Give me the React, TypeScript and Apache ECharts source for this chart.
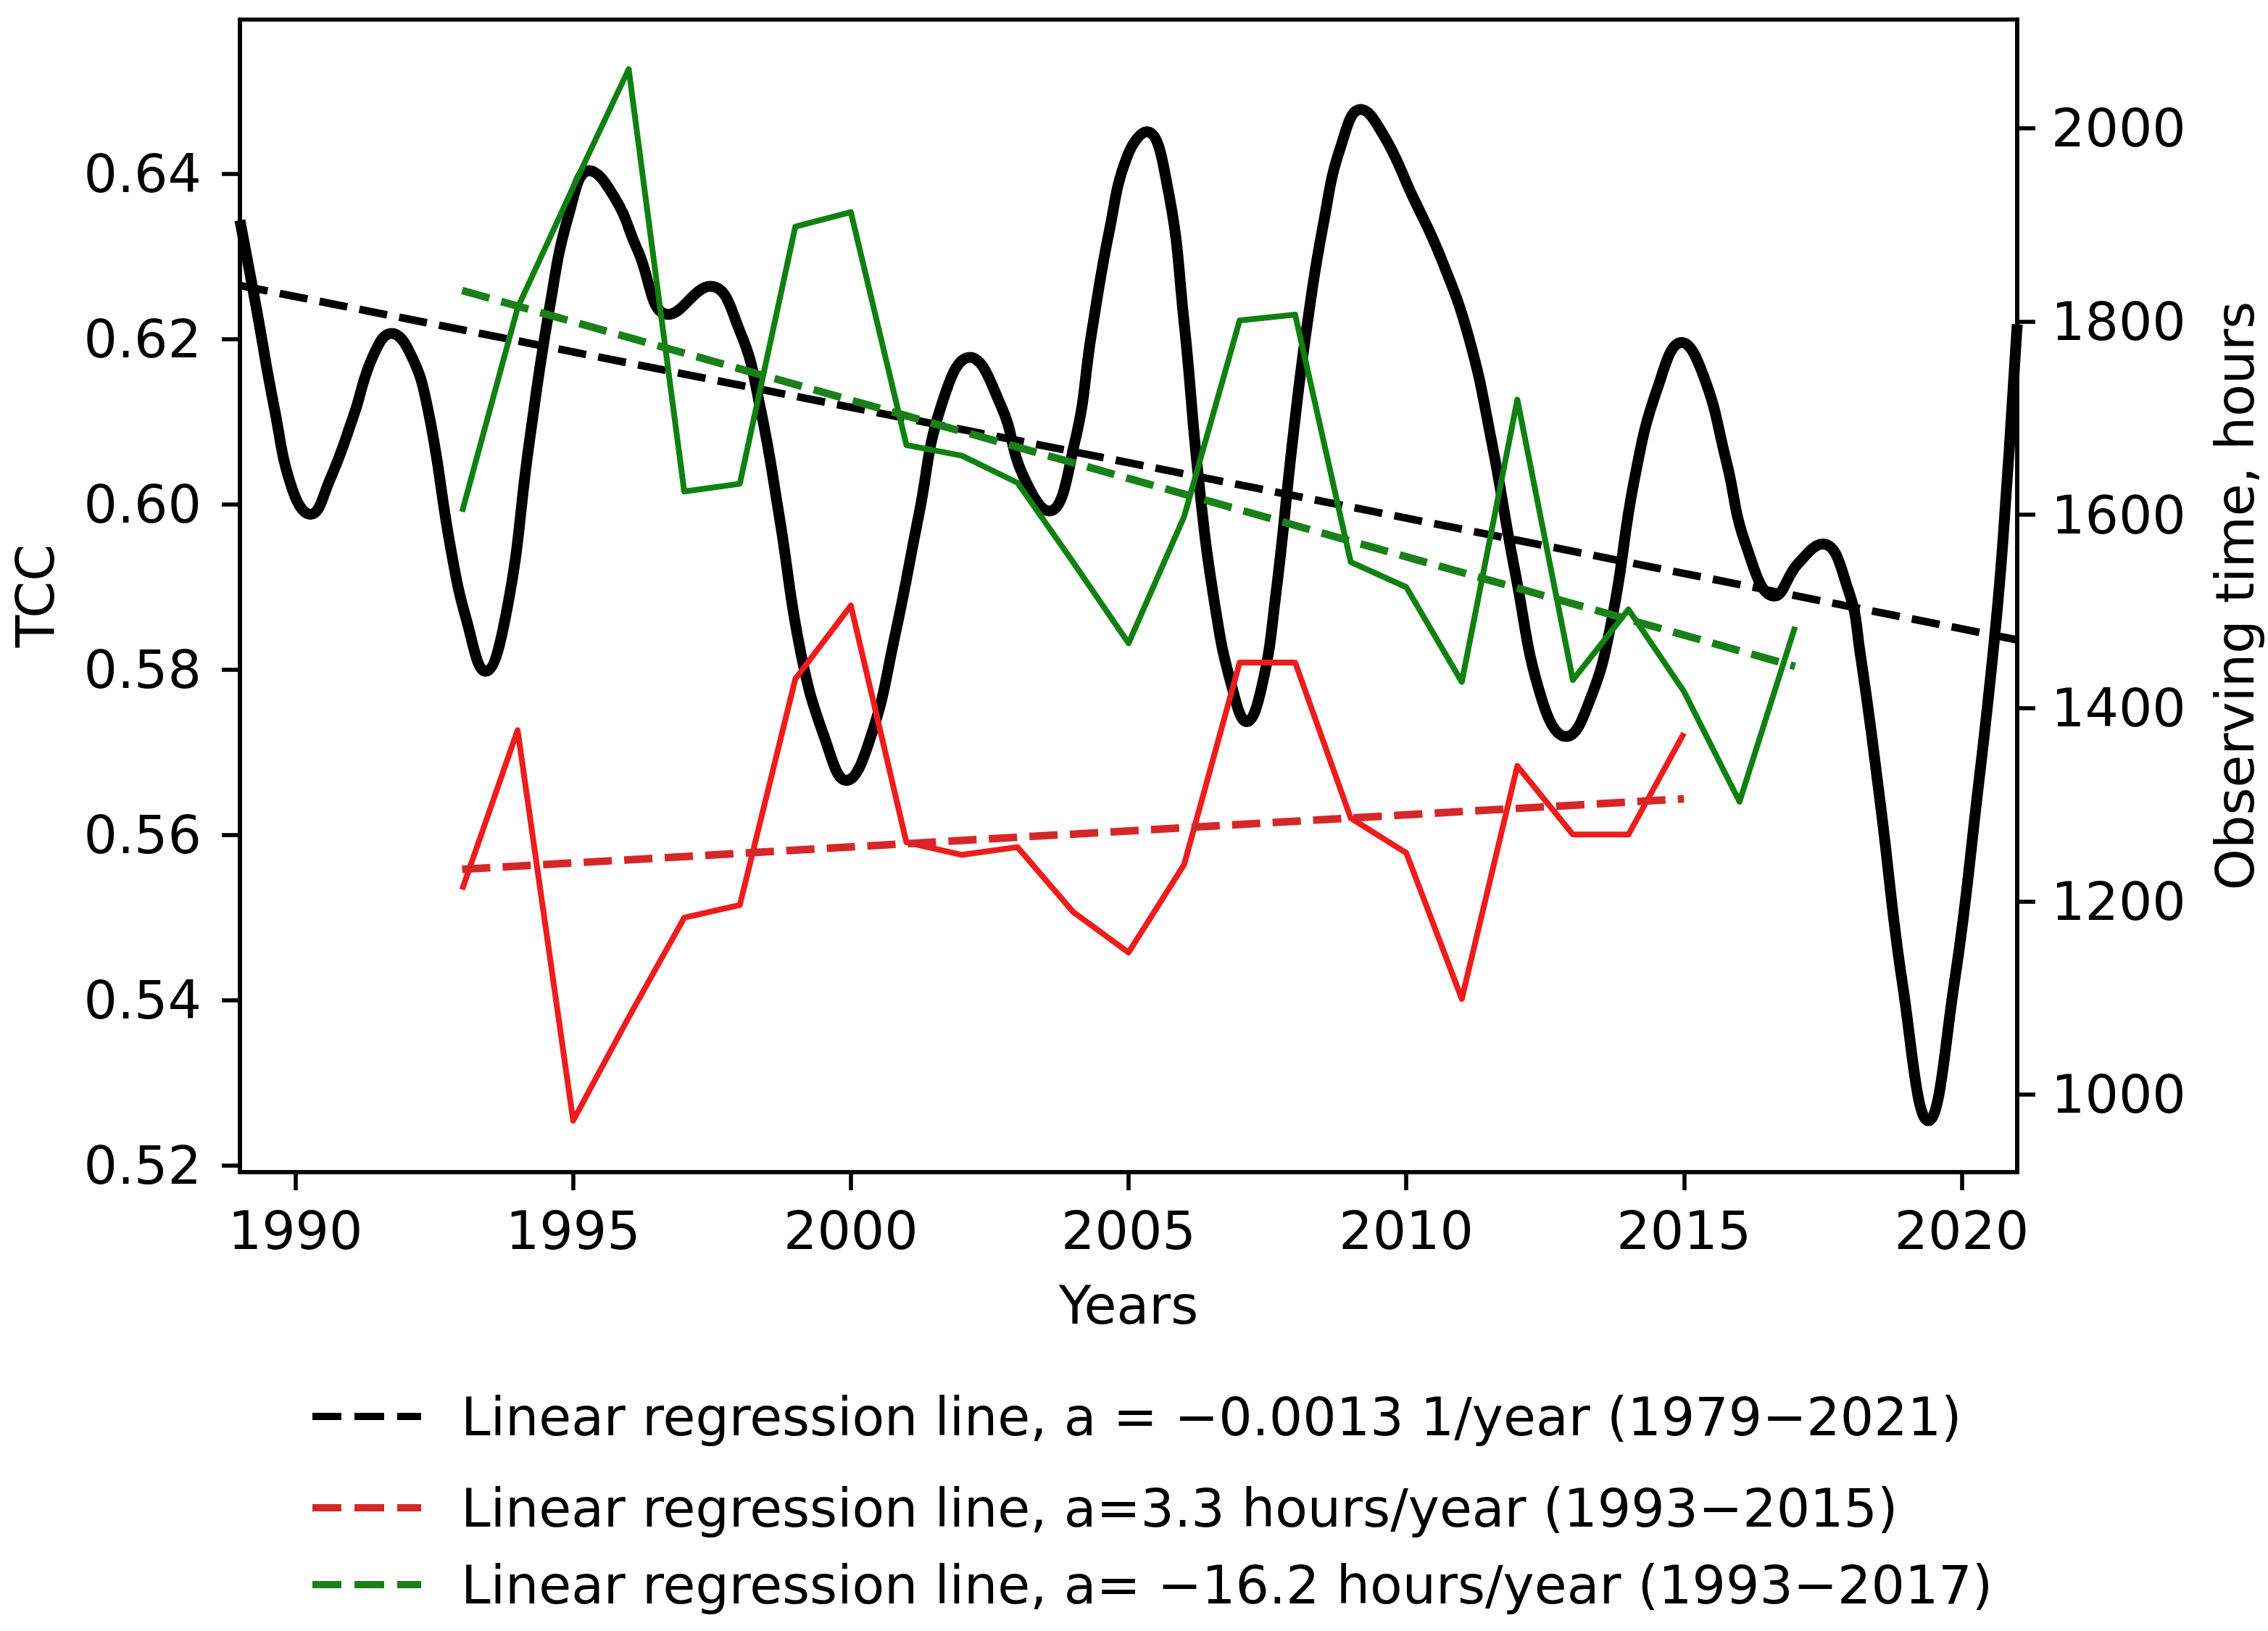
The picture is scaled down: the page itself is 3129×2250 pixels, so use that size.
import React, { useEffect, useRef } from "react";
import * as echarts from "echarts";

// ---------- data ----------
const TCC_YEARS = [
  1989.0, 1989.3, 1989.61, 1989.95, 1990.27, 1990.62, 1991.04, 1991.4, 1991.73, 1992.05,
  1992.37, 1992.8, 1993.08, 1993.42, 1993.8, 1994.21, 1994.57, 1994.93, 1995.29, 1995.75,
  1996.16, 1996.72, 1997.47, 1998.0, 1998.36, 1998.71, 1999.1, 1999.53, 1999.92, 2000.35,
  2000.8, 2001.22, 2001.63, 2002.14, 2002.7, 2003.1, 2003.57, 2004.03, 2004.34, 2004.65,
  2004.98, 2005.33, 2005.7, 2006.0, 2006.26, 2006.55, 2006.85, 2007.13, 2007.4, 2007.65,
  2007.95, 2008.2, 2008.52, 2008.82, 2009.18, 2009.59, 2010.1, 2010.62, 2011.13, 2011.54,
  2011.96, 2012.45, 2012.88, 2013.3, 2013.7, 2014.11, 2014.53, 2014.96, 2015.35, 2015.76,
  2016.12, 2016.63, 2017.05, 2017.5, 2017.96, 2018.17, 2018.53, 2018.94, 2019.4, 2019.86,
  2020.27, 2020.63, 2020.82, 2021.0,
];
const TCC_VALUES = [
  0.6344, 0.6236, 0.612, 0.6017, 0.5988, 0.603, 0.6106, 0.618, 0.6207, 0.6185,
  0.612, 0.5945, 0.586, 0.5798, 0.587, 0.6075, 0.6236, 0.6353, 0.6404, 0.6371,
  0.6308, 0.623, 0.6264, 0.621, 0.612, 0.5986, 0.582, 0.5717, 0.5666, 0.5717,
  0.5843, 0.5986, 0.612, 0.6178, 0.612, 0.6035, 0.5992, 0.6075, 0.621, 0.633,
  0.6422, 0.6451, 0.6385, 0.622, 0.6031, 0.588, 0.5782, 0.5737, 0.578, 0.589,
  0.6075, 0.621, 0.6344, 0.6433, 0.6478, 0.6447, 0.6375, 0.6299, 0.6201, 0.6075,
  0.5918, 0.5762, 0.5719, 0.5762, 0.586, 0.6031, 0.6142, 0.6196, 0.6156, 0.6053,
  0.595, 0.5889, 0.5928, 0.5952, 0.5896, 0.5821, 0.5641, 0.5417, 0.5254, 0.5417,
  0.5641, 0.5865, 0.6031, 0.6218,
];

const RED_YEARS = [
  1993, 1994, 1995, 1996, 1997, 1998, 1999, 2000, 2001, 2002, 2003, 2004,
  2005, 2006, 2007, 2008, 2009, 2010, 2011, 2012, 2013, 2014, 2015,
];
const RED_HOURS = [
  1212, 1377, 973, 1080, 1183, 1196, 1430, 1506, 1261, 1248, 1256, 1189,
  1147, 1238, 1447, 1447, 1286, 1250, 1099, 1340, 1269, 1269, 1374,
];

const GREEN_YEARS = [
  1993, 1994, 1995, 1996, 1997, 1998, 1999, 2000, 2001, 2002, 2003, 2004, 2005,
  2006, 2007, 2008, 2009, 2010, 2011, 2012, 2013, 2014, 2015, 2016, 2017,
];
const GREEN_HOURS = [
  1603, 1814, 1939, 2061, 1624, 1632, 1898, 1913, 1672, 1661, 1633, 1551, 1467,
  1598, 1801, 1807, 1551, 1525, 1427, 1719, 1429, 1502, 1417, 1303, 1484,
];

const TCC_TREND_YEARS = [1989, 2021];
const TCC_TREND = [0.6265, 0.5836];
const RED_TREND_YEARS = [1993, 2015];
const RED_TREND = [1233, 1306];
const GREEN_TREND_YEARS = [1993, 2017];
const GREEN_TREND = [1832, 1443];

const X_TICKS = [1990, 1995, 2000, 2005, 2010, 2015, 2020];
const TCC_TICKS = [0.52, 0.54, 0.56, 0.58, 0.6, 0.62, 0.64];
const HOUR_TICKS = [1000, 1200, 1400, 1600, 1800, 2000];

const LEGEND_LABELS = [
  "Linear regression line, a = \u22120.0013 1/year (1979\u22122021)",
  "Linear regression line, a=3.3 hours/year (1993\u22122015)",
  "Linear regression line, a= \u221216.2 hours/year (1993\u22122017)",
];

// ---------- layout / style ----------
const W = 3129;
const H = 2250;
const FONT = "DejaVu Sans";
const FS = 73;
const AX_W = 5.6;
const LEGEND_CENTERS = [1954, 2080, 2186];
const DASH = [39, 17];
const DASH_ICON = "path://M0 0h40v10H0z M58 0h41v10H58z M117 0h33v10h-33z";

const zip = (xs: number[], ys: number[]) => xs.map((x, i) => [x, ys[i]]);

export default function App() {
  const ref = useRef<HTMLDivElement | null>(null);

  useEffect(() => {
    if (!ref.current) return;
    const chart = echarts.init(ref.current, undefined, { renderer: "svg" });

    const labelStyle = { fontSize: FS, fontFamily: FONT, color: "#000", lineHeight: 80 };
    const axisLine = { show: true, lineStyle: { color: "#000", width: AX_W } };
    const tick = (vals: number[]) => ({
      show: true,
      inside: false,
      length: 25,
      customValues: vals,
      lineStyle: { color: "#000", width: AX_W },
    });

    const option: any = {
      animation: false,
      backgroundColor: "#fff",
      textStyle: { fontFamily: FONT },
      grid: {
        left: 331,
        right: W - 2783,
        top: 27,
        bottom: H - 1617,
        show: true,
        borderColor: "#000",
        borderWidth: AX_W,
        backgroundColor: "transparent",
        containLabel: false,
        outerBoundsMode: "none",
      },
      xAxis: {
        type: "value",
        min: 1989,
        max: 2021,
        name: "Years",
        nameLocation: "middle",
        nameGap: 143,
        nameTextStyle: { ...labelStyle },
        axisLine: { ...axisLine, onZero: false },
        axisTick: tick(X_TICKS),
        axisLabel: { ...labelStyle, margin: 40, customValues: X_TICKS, formatter: (v: number) => String(v) },
        splitLine: { show: false },
      },
      yAxis: [
        {
          type: "value",
          position: "left",
          min: 0.51917,
          max: 0.65869,
          name: "TCC",
          nameLocation: "middle",
          nameRotate: 90,
          nameGap: 243,
          nameTextStyle: { ...labelStyle },
          axisLine,
          axisTick: tick(TCC_TICKS),
          axisLabel: { ...labelStyle, margin: 53, customValues: TCC_TICKS, formatter: (v: number) => v.toFixed(2) },
          splitLine: { show: false },
        },
        {
          type: "value",
          position: "right",
          min: 919.7,
          max: 2112.3,
          name: "Observing time, hours",
          nameLocation: "middle",
          nameRotate: 90,
          nameGap: 260,
          nameTextStyle: { ...labelStyle },
          alignTicks: false,
          axisLine,
          axisTick: tick(HOUR_TICKS),
          axisLabel: { ...labelStyle, margin: 47, customValues: HOUR_TICKS, formatter: (v: number) => String(v) },
          splitLine: { show: false },
        },
      ],
      legend: LEGEND_LABELS.map((name, i) => ({
        show: true,
        data: [name],
        left: 431,
        top: LEGEND_CENTERS[i] - 40,
        orient: "vertical",
        padding: 0,
        itemWidth: 150,
        itemHeight: 10,
        icon: DASH_ICON,
        selectedMode: false,
        textStyle: { ...labelStyle, padding: [0, 0, 0, 50] },
      })),
      series: [
        {
          type: "line",
          name: "TCC",
          yAxisIndex: 0,
          data: zip(TCC_YEARS, TCC_VALUES),
          smooth: 0.45,
          symbol: "none",
          color: "#000",
          lineStyle: { color: "#000", width: 15, join: "round" },
          z: 2,
        },
        {
          type: "line",
          name: LEGEND_LABELS[0],
          yAxisIndex: 0,
          data: zip(TCC_TREND_YEARS, TCC_TREND),
          symbol: "none",
          color: "#000",
          lineStyle: { color: "#000", width: 10.5, type: DASH, cap: "butt" },
          z: 3,
        },
        {
          type: "line",
          name: "red",
          yAxisIndex: 1,
          data: zip(RED_YEARS, RED_HOURS),
          symbol: "none",
          color: "#ee1c1c",
          lineStyle: { color: "#ee1c1c", width: 8, join: "round" },
          z: 4,
        },
        {
          type: "line",
          name: LEGEND_LABELS[1],
          yAxisIndex: 1,
          data: zip(RED_TREND_YEARS, RED_TREND),
          symbol: "none",
          color: "#d62728",
          lineStyle: { color: "#d62728", width: 10.5, type: DASH, cap: "butt" },
          z: 5,
        },
        {
          type: "line",
          name: "green",
          yAxisIndex: 1,
          data: zip(GREEN_YEARS, GREEN_HOURS),
          symbol: "none",
          color: "#108010",
          lineStyle: { color: "#108010", width: 8, join: "round" },
          z: 6,
        },
        {
          type: "line",
          name: LEGEND_LABELS[2],
          yAxisIndex: 1,
          data: zip(GREEN_TREND_YEARS, GREEN_TREND),
          symbol: "none",
          color: "#1a801a",
          lineStyle: { color: "#1a801a", width: 10.5, type: DASH, cap: "butt" },
          z: 7,
        },
      ],
    };

    chart.setOption(option);
    return () => chart.dispose();
  }, []);

  return (
    <div
      ref={ref}
      style={{ position: "absolute", left: 0, top: 0, width: W, height: H, background: "#fff" }}
    />
  );
}
